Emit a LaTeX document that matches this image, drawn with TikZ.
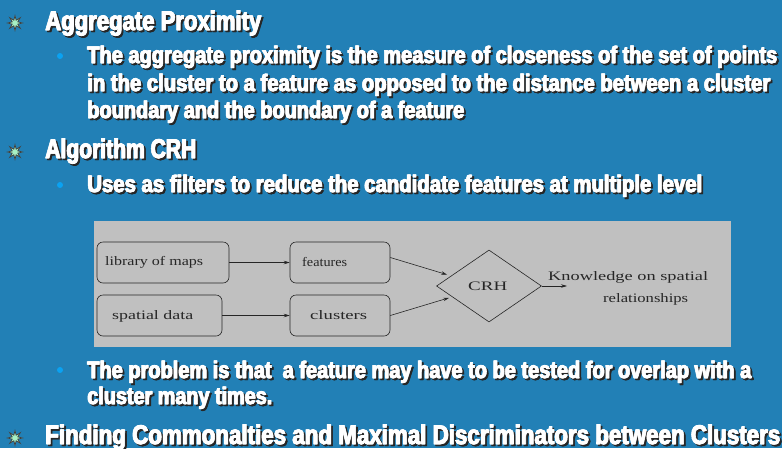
\documentclass[tikz,border=0pt]{standalone}
\usepackage{fontspec}
\usepackage{graphicx}
\setmainfont{Liberation Sans}[BoldFeatures={FakeBold=2.5}]
\newfontfamily\diagfont{Liberation Serif}
\usetikzlibrary{shapes.geometric,arrows.meta,calc}
\definecolor{slidebg}{HTML}{2280B6}
\definecolor{diagbg}{HTML}{C0C0C0}
\definecolor{dotblue}{HTML}{0AA2F2}
\definecolor{stargreen}{HTML}{A6F0C4}
\newcommand\fitbox[2]{\sbox0{#2}\dimen0=\wd0\relax\pgfmathsetmacro\fitsx{#1/\the\dimen0}\scalebox{\fitsx}[1.08]{\usebox0}}
\tikzset{
  txt/.style={anchor=base west, inner sep=0pt, outer sep=0pt},
  dotbul/.style={circle, fill=dotblue, minimum size=6pt, inner sep=0pt},
  rbox/.style={draw=black!85, line width=0.6pt, rounded corners=6pt, minimum height=41pt, inner sep=0pt},
  dlab/.style={anchor=base west, inner sep=0pt, font=\diagfont\fontsize{12}{14}\selectfont, text=black!85},
  arr/.style={draw=black!85, line width=0.6pt, -{Stealth[length=6pt,width=3.5pt]}},
}
% star bullet: #1 name, #2 x, #3 y
\newcommand\starbullet[3]{%
  \coordinate (#1) at (#2,#3);
  \fill[stargreen, draw=black!75, line width=0.7pt, line join=miter]
    (#2,#3) +(90:7.5) -- +(112.5:3) -- +(135:7.5) -- +(157.5:3) -- +(180:7.5) -- +(202.5:3)
    -- +(225:7.5) -- +(247.5:3) -- +(270:7.5) -- +(292.5:3) -- +(315:7.5) -- +(337.5:3)
    -- +(0:7.5) -- +(22.5:3) -- +(45:7.5) -- +(67.5:3) -- cycle;
}
% #1 name, #2 x, #3 baseline y, #4 width, #5 size, #6 text
\newcommand\shtext[6]{%
  \node[txt, text=black!85] (#1s) at (#2+1.8,#3+1.8) {\fontsize{#5}{#5}\selectfont\bfseries\fitbox{#4}{#6}};
  \node[txt, text=black!85] (#1t) at (#2+2.4,#3+1.8) {\fontsize{#5}{#5}\selectfont\bfseries\fitbox{#4}{#6}};
  \node[txt, text=white] (#1u) at (#2+0.6,#3) {\fontsize{#5}{#5}\selectfont\bfseries\fitbox{#4}{#6}};
  \node[txt, text=white] (#1) at (#2,#3) {\fontsize{#5}{#5}\selectfont\bfseries\fitbox{#4}{#6}};
}
\begin{document}
\begin{tikzpicture}[x=1pt,y=-1pt]
\useasboundingbox (0,0) rectangle (782,448);
\fill[slidebg] (0,0) rectangle (782,448);

% bullets
\starbullet{s1}{15}{23}
\starbullet{s2}{15}{152}
\starbullet{s3}{15}{438}
\node[dotbul] (d1) at (60,56) {};
\node[dotbul] (d2) at (60,185) {};
\node[dotbul] (d3) at (60,370) {};

% texts
\shtext{h1}{45}{30}{216}{25}{Aggregate Proximity}
\shtext{l1}{87}{63}{690}{22}{The aggregate proximity is the measure of closeness of the set of points}
\shtext{l2}{87}{91}{683}{22}{in the cluster to a feature as opposed to the distance between a cluster}
\shtext{l3}{87}{118}{377}{22}{boundary and the boundary of a feature}
\shtext{h2}{45}{158}{151}{25}{Algorithm CRH}
\shtext{l4}{87}{192}{615}{22}{Uses as filters to reduce the candidate features at multiple level}
\shtext{l5}{87}{378}{664}{22}{The problem is that\ \ a feature may have to be tested for overlap with a}
\shtext{l6}{87}{404}{185}{22}{cluster many times.}
\shtext{h3}{45}{444}{735}{25}{Finding Commonalties and Maximal Discriminators between Clusters}

% diagram
\fill[diagbg] (94,221) rectangle (731,347);
\node[rbox, minimum width=132pt] (lib) at (163,262.5) {};
\node[rbox, minimum width=100pt] (feat) at (340,262.5) {};
\node[rbox, minimum width=125pt] (spat) at (159.5,315.5) {};
\node[rbox, minimum width=100pt] (clus) at (340,315.5) {};
\node[diamond, draw=black!85, line width=0.6pt, minimum width=105pt, minimum height=72pt, inner sep=0pt] (crh) at (489,286) {};
\node[dlab] (tlib) at (105,265) {\fitbox{98}{library of maps}};
\node[dlab] (tfeat) at (302,266) {\fitbox{45}{features}};
\node[dlab] (tspat) at (112,319) {\fitbox{81}{spatial data}};
\node[dlab] (tclus) at (310,319) {\fitbox{57}{clusters}};
\node[anchor=base west, inner sep=0pt, font=\diagfont\fontsize{12}{14}\selectfont, text=black!85] (tcrh) at (468,290) {\fitbox{39}{CRH}};
\node[dlab] (tk1) at (548,280) {\fitbox{160}{Knowledge on spatial}};
\node[dlab] (tk2) at (603,302) {\fitbox{85}{relationships}};
\coordinate (kout) at (567,286);

\draw[arr] (lib.east) -- (feat.west);
\draw[arr] (spat.east) -- (clus.west);
\draw[arr, shorten >=4pt] ($(feat.east)+(0,-5)$) -- ($(crh.west)!0.28!(crh.north)$);
\draw[arr, shorten >=3pt] (clus.east) -- ($(crh.west)!0.3!(crh.south)$);
\draw[arr] (crh.east) -- (kout);
\end{tikzpicture}
\end{document}
